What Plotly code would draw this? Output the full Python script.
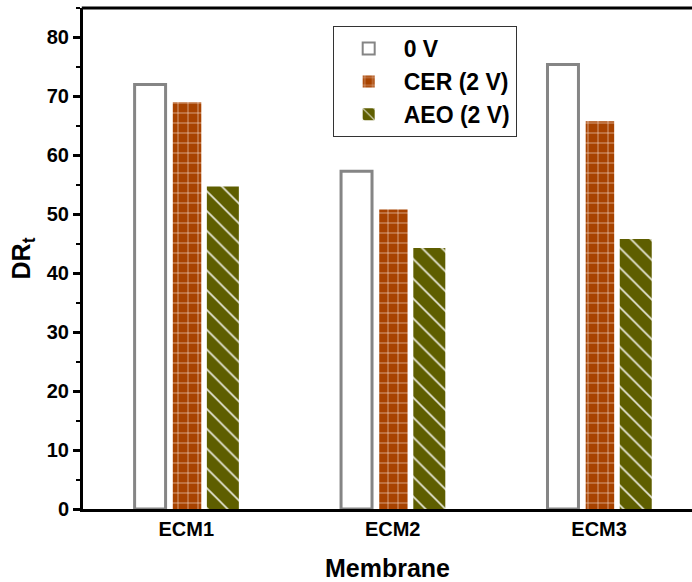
import plotly.graph_objects as go

categories = ["ECM1", "ECM2", "ECM3"]
series_names = ["0 V", "CER (2 V)", "AEO (2 V)"]
v_0v = [72.0, 57.3, 75.4]
v_cer = [69.0, 50.8, 65.8]
v_aeo = [54.7, 44.3, 45.8]

FONT = "Liberation Sans, Arial, sans-serif"
xpos = list(range(len(categories)))

fig = go.Figure()
fig.add_trace(go.Bar(
    x=xpos, y=v_0v, name=series_names[0], width=0.15, offset=-0.25,
    marker=dict(color="white", line=dict(color="#858585", width=3)),
))
fig.add_trace(go.Bar(
    x=xpos, y=v_cer, name=series_names[1], width=0.138, offset=-0.065,
    marker=dict(color="#A84300", line=dict(color="#A84300", width=0),
                pattern=dict(shape="+", fgcolor="#F2D8C8", bgcolor="#A84300",
                             size=10, solidity=0.12, fillmode="replace")),
))
fig.add_trace(go.Bar(
    x=xpos, y=v_aeo, name=series_names[2], width=0.155, offset=0.10,
    marker=dict(color="#5E5E00", line=dict(color="#5E5E00", width=0),
                pattern=dict(shape="\\", fgcolor="#E8E8D8", bgcolor="#5E5E00",
                             size=14, solidity=0.12, fillmode="replace")),
))

fig.update_layout(
    width=692, height=582,
    margin=dict(l=83, r=0, t=8, b=73),
    plot_bgcolor="white", paper_bgcolor="white",
    font=dict(family=FONT, color="black"),
    barmode="overlay",
    showlegend=True,
    legend=dict(
        x=0.41, y=0.964, xanchor="left", yanchor="top",
        bgcolor="white", bordercolor="#333333", borderwidth=1,
        font=dict(size=23, family=FONT, weight="bold"),
        itemsizing="constant", itemwidth=60, tracegroupgap=0,
    ),
    xaxis=dict(
        range=[-0.5, 2.45], tickmode="array", tickvals=xpos, ticktext=categories,
        showgrid=False, zeroline=False, showline=True, linecolor="black",
        linewidth=3, mirror=False, ticks="", automargin=False,
        tickfont=dict(size=20, family=FONT, weight="bold"),
        title=dict(text="Membrane", font=dict(size=25, family=FONT, weight="bold"), standoff=21),
    ),
    yaxis=dict(
        range=[0, 85], tickmode="linear", tick0=0, dtick=10,
        showgrid=False, zeroline=False, showline=True, linecolor="black",
        linewidth=3, mirror=False, ticks="outside", ticklen=7, tickwidth=2.5,
        tickcolor="black", automargin=False,
        minor=dict(ticks="outside", ticklen=4, tickwidth=2, dtick=5, tickcolor="black"),
        tickfont=dict(size=20, family=FONT, weight="bold"),
        title=dict(text="DR<sub>t</sub>", font=dict(size=25, family=FONT, weight="bold"), standoff=10),
    ),
    shapes=[dict(type="line", xref="paper", yref="paper", x0=-0.002, x1=1.0,
                 y0=1, y1=1, line=dict(color="black", width=3))],
)

fig.write_html(
    "out.html", config={"displayModeBar": False},
    post_script=("document.body.style.margin='0';"
                 "document.body.style.overflow='hidden';"
                 "document.documentElement.style.overflow='hidden';"),
)
